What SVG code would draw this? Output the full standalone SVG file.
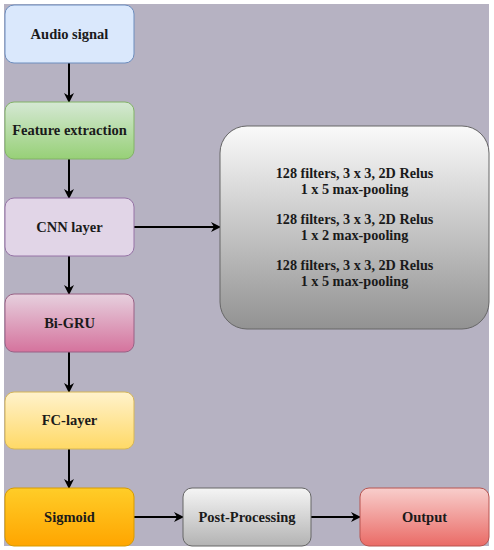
<svg xmlns="http://www.w3.org/2000/svg" width="494" height="550" viewBox="0 0 494 550">
<defs>
<linearGradient id="gGreen" x1="0" y1="0" x2="0" y2="1"><stop offset="0" stop-color="#d5e8d4"/><stop offset="1" stop-color="#97d077"/></linearGradient>
<linearGradient id="gPink" x1="0" y1="0" x2="0" y2="1"><stop offset="0" stop-color="#e6d0de"/><stop offset="1" stop-color="#d5739d"/></linearGradient>
<linearGradient id="gYellow" x1="0" y1="0" x2="0" y2="1"><stop offset="0" stop-color="#fff2cc"/><stop offset="1" stop-color="#ffd966"/></linearGradient>
<linearGradient id="gOrange" x1="0" y1="0" x2="0" y2="1"><stop offset="0" stop-color="#ffcd28"/><stop offset="1" stop-color="#ffa500"/></linearGradient>
<linearGradient id="gGrey" x1="0" y1="0" x2="0" y2="1"><stop offset="0" stop-color="#f5f5f5"/><stop offset="1" stop-color="#b3b3b3"/></linearGradient>
<linearGradient id="gRed" x1="0" y1="0" x2="0" y2="1"><stop offset="0" stop-color="#f8cecc"/><stop offset="1" stop-color="#ea6b66"/></linearGradient>
<linearGradient id="gBig" x1="0" y1="0" x2="0" y2="1"><stop offset="0" stop-color="#fafafa"/><stop offset="1" stop-color="#929292"/></linearGradient>
<marker id="arr" viewBox="0 0 10 10" refX="9" refY="5" markerWidth="10" markerHeight="10" markerUnits="userSpaceOnUse" orient="auto">
<path d="M0,0 L10,5 L0,10 L3,5 Z" fill="#000"/>
</marker>
</defs>
<style>
.box{stroke-width:1}
.t{font-family:"Liberation Serif","Times New Roman",serif;font-weight:bold;font-size:14.5px;fill:#1a1a1a;text-anchor:middle}
.s{font-size:14.2px}
.c{stroke:#000;stroke-width:2;fill:none;marker-end:url(#arr)}
</style>
<rect x="4" y="4" width="485" height="542" fill="#b6b2c2"/>
<g id="connectors">
<line class="c" x1="69" y1="63" x2="69" y2="102"/>
<line class="c" x1="69" y1="159" x2="69" y2="198"/>
<line class="c" x1="69" y1="256" x2="69" y2="294"/>
<line class="c" x1="69" y1="352" x2="69" y2="392"/>
<line class="c" x1="69" y1="449" x2="69" y2="488"/>
<line class="c" x1="134" y1="227" x2="220" y2="227"/>
<line class="c" x1="134" y1="517" x2="183" y2="517"/>
<line class="c" x1="311" y1="517" x2="360" y2="517"/>
</g>
<g id="audio"><rect class="box" x="5" y="5" width="129" height="58" rx="9" fill="#dae8fc" stroke="#6c8ebf"/><text class="t" x="69.5" y="39">Audio signal</text></g>
<g id="feature"><rect class="box" x="5" y="102" width="129" height="57" rx="9" fill="url(#gGreen)" stroke="#82b366"/><text class="t" x="69.5" y="135">Feature extraction</text></g>
<g id="cnn"><rect class="box" x="5" y="198" width="129" height="58" rx="9" fill="#e1d5e7" stroke="#9673a6"/><text class="t" x="69.5" y="232">CNN layer</text></g>
<g id="bigru"><rect class="box" x="5" y="294" width="129" height="58" rx="9" fill="url(#gPink)" stroke="#996185"/><text class="t" x="69.5" y="328">Bi-GRU</text></g>
<g id="fc"><rect class="box" x="5" y="392" width="129" height="57" rx="9" fill="url(#gYellow)" stroke="#d6b656"/><text class="t" x="69.5" y="425">FC-layer</text></g>
<g id="sigmoid"><rect class="box" x="5" y="488" width="129" height="58" rx="9" fill="url(#gOrange)" stroke="#d79b00"/><text class="t" x="69.5" y="522">Sigmoid</text></g>
<g id="post"><rect class="box" x="183" y="488" width="128" height="58" rx="9" fill="url(#gGrey)" stroke="#666666"/><text class="t" x="247" y="522">Post-Processing</text></g>
<g id="output"><rect class="box" x="360" y="488" width="129" height="58" rx="9" fill="url(#gRed)" stroke="#b85450"/><text class="t" x="424.5" y="522">Output</text></g>
<g id="cnnDetail"><rect class="box" x="220" y="126" width="269" height="203" rx="27" fill="url(#gBig)" stroke="#666666"/>
<text class="t s" x="354.5" y="178">128 filters, 3 x 3, 2D Relus</text>
<text class="t s" x="354.5" y="194">1 x 5 max-pooling</text>
<text class="t s" x="354.5" y="224">128 filters, 3 x 3, 2D Relus</text>
<text class="t s" x="354.5" y="240">1 x 2 max-pooling</text>
<text class="t s" x="354.5" y="270">128 filters, 3 x 3, 2D Relus</text>
<text class="t s" x="354.5" y="286">1 x 5 max-pooling</text>
</g>
</svg>
